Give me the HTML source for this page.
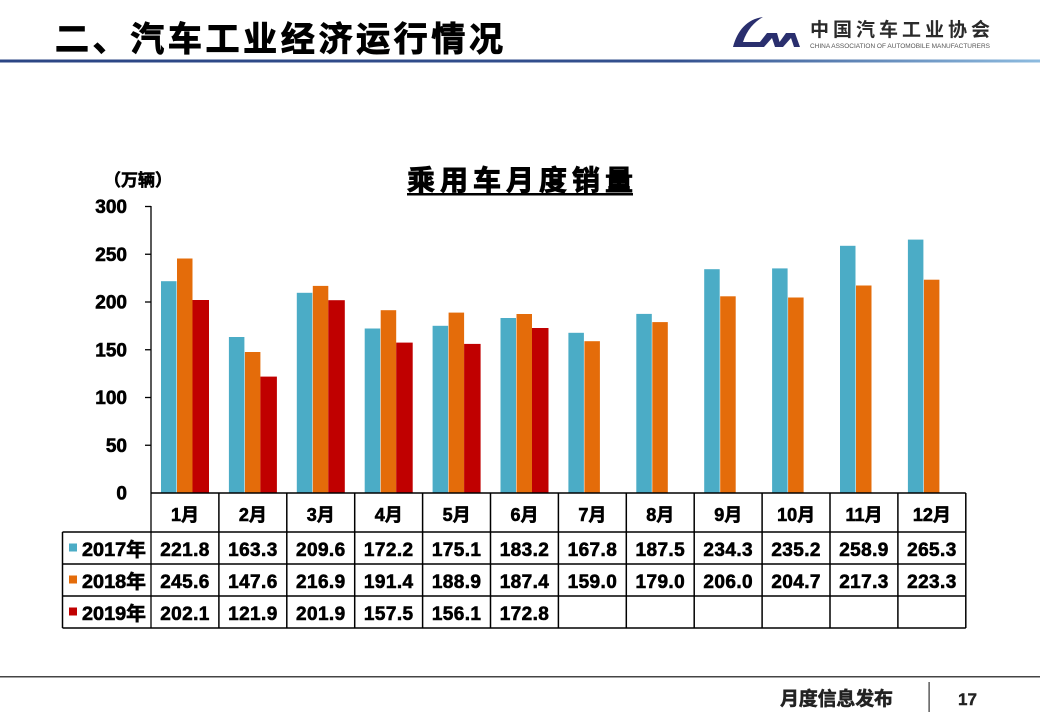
<!DOCTYPE html>
<html><head><meta charset="utf-8">
<style>
html,body{margin:0;padding:0;background:#fff;}
svg{display:block;}
text{font-family:"Liberation Sans","Noto Sans CJK SC",sans-serif;font-weight:bold;fill:#000;}
.hv{stroke:#000;stroke-width:0.6;}
.hv2{stroke:#000;stroke-width:0.9;}
</style></head>
<body>
<svg width="1040" height="720" viewBox="0 0 1040 720" xmlns="http://www.w3.org/2000/svg">
<defs>
<linearGradient id="hg" x1="0" x2="1" y1="0" y2="0">
<stop offset="0" stop-color="#2B4584"/>
<stop offset="0.65" stop-color="#34518f"/>
<stop offset="1" stop-color="#8DBBDF"/>
</linearGradient>
</defs>
<rect x="0" y="0" width="1040" height="720" fill="#fff"/>
<!-- header -->
<text class="hv2" x="55" y="51" font-size="34" textLength="448" lengthAdjust="spacing">二、汽车工业经济运行情况</text>
<rect x="0" y="59.5" width="1040" height="3" fill="url(#hg)"/>
<!-- logo -->
<path d="M763 17 C747 19 737 31 733 47 L758 47 L761 42 L743 42 C747 30 754 22 763 17 Z" fill="#2A2F6E"/>
<path d="M756 47 L767 33 L777 33 L781 47 L775 47 L772 38 L764 47 Z" fill="#2A2F6E"/>
<path d="M776 47 L786 33 L795 33 L800 47 L794 47 L791 38 L783 47 Z" fill="#2A2F6E"/>
<text x="810" y="36" font-size="19" textLength="180" lengthAdjust="spacing" style="fill:#2a2a2a">中国汽车工业协会</text>
<text x="810" y="48" font-size="6" textLength="180" lengthAdjust="spacingAndGlyphs" style="fill:#555;font-weight:normal">CHINA ASSOCIATION OF AUTOMOBILE MANUFACTURERS</text>

<!-- chart title -->
<text class="hv2" x="407" y="190" font-size="28" textLength="226" lengthAdjust="spacing">乘用车月度销量</text>
<rect x="407" y="193" width="226" height="2.5" fill="#000"/>
<text class="hv" x="104" y="186" font-size="17">（万辆）</text>

<!-- y axis -->
<g stroke="#000" stroke-width="1.3">
<line x1="151" y1="206" x2="151" y2="628"/>
<line x1="145" y1="206.5" x2="151" y2="206.5"/>
<line x1="145" y1="254.25" x2="151" y2="254.25"/>
<line x1="145" y1="302" x2="151" y2="302"/>
<line x1="145" y1="349.75" x2="151" y2="349.75"/>
<line x1="145" y1="397.5" x2="151" y2="397.5"/>
<line x1="145" y1="445.25" x2="151" y2="445.25"/>
</g>
<g font-size="19" text-anchor="end" class="hv">
<text x="127" y="213">300</text>
<text x="127" y="261">250</text>
<text x="127" y="308.5">200</text>
<text x="127" y="356.5">150</text>
<text x="127" y="404">100</text>
<text x="127" y="452">50</text>
<text x="127" y="499.5">0</text>
</g>

<!-- bars 2017 -->
<g fill="#4BACC6">
<rect x="161" y="281.2" width="15.5" height="211.8"/>
<rect x="228.9" y="337.0" width="15.5" height="156.0"/>
<rect x="296.8" y="292.8" width="15.5" height="200.2"/>
<rect x="364.7" y="328.5" width="15.5" height="164.5"/>
<rect x="432.6" y="325.8" width="15.5" height="167.2"/>
<rect x="500.5" y="318.0" width="15.5" height="175.0"/>
<rect x="568.4" y="332.8" width="15.5" height="160.2"/>
<rect x="636.3" y="313.9" width="15.5" height="179.1"/>
<rect x="704.2" y="269.2" width="15.5" height="223.8"/>
<rect x="772.1" y="268.4" width="15.5" height="224.6"/>
<rect x="840" y="245.8" width="15.5" height="247.2"/>
<rect x="907.9" y="239.6" width="15.5" height="253.4"/>
</g>
<!-- bars 2018 -->
<g fill="#E46C0A">
<rect x="177" y="258.5" width="15.5" height="234.5"/>
<rect x="244.9" y="352.0" width="15.5" height="141.0"/>
<rect x="312.8" y="285.9" width="15.5" height="207.1"/>
<rect x="380.7" y="310.2" width="15.5" height="182.8"/>
<rect x="448.6" y="312.6" width="15.5" height="180.4"/>
<rect x="516.5" y="314.0" width="15.5" height="179.0"/>
<rect x="584.4" y="341.2" width="15.5" height="151.8"/>
<rect x="652.3" y="322.1" width="15.5" height="170.9"/>
<rect x="720.2" y="296.3" width="15.5" height="196.7"/>
<rect x="788.1" y="297.5" width="15.5" height="195.5"/>
<rect x="856" y="285.5" width="15.5" height="207.5"/>
<rect x="923.9" y="279.7" width="15.5" height="213.3"/>
</g>
<!-- bars 2019 -->
<g fill="#C00000">
<rect x="192.5" y="300.0" width="16.5" height="193.0"/>
<rect x="260.4" y="376.6" width="16.5" height="116.4"/>
<rect x="328.3" y="300.2" width="16.5" height="192.8"/>
<rect x="396.2" y="342.6" width="16.5" height="150.4"/>
<rect x="464.1" y="343.9" width="16.5" height="149.1"/>
<rect x="532" y="328.0" width="16.5" height="165.0"/>
</g>

<!-- table grid -->
<g stroke="#000" stroke-width="1.5">
<line x1="151" y1="493" x2="965.8" y2="493"/>
<line x1="62.5" y1="532" x2="965.8" y2="532"/>
<line x1="62.5" y1="564" x2="965.8" y2="564"/>
<line x1="62.5" y1="596" x2="965.8" y2="596"/>
<line x1="62.5" y1="628" x2="965.8" y2="628"/>
<line x1="62.5" y1="532" x2="62.5" y2="628"/>
<line x1="218.9" y1="493" x2="218.9" y2="628"/>
<line x1="286.8" y1="493" x2="286.8" y2="628"/>
<line x1="354.7" y1="493" x2="354.7" y2="628"/>
<line x1="422.6" y1="493" x2="422.6" y2="628"/>
<line x1="490.5" y1="493" x2="490.5" y2="628"/>
<line x1="558.4" y1="493" x2="558.4" y2="628"/>
<line x1="626.3" y1="493" x2="626.3" y2="628"/>
<line x1="694.2" y1="493" x2="694.2" y2="628"/>
<line x1="762.1" y1="493" x2="762.1" y2="628"/>
<line x1="830" y1="493" x2="830" y2="628"/>
<line x1="897.9" y1="493" x2="897.9" y2="628"/>
<line x1="965.8" y1="493" x2="965.8" y2="628"/>
</g>

<!-- month labels -->
<g font-size="18" text-anchor="middle" class="hv">
<text x="185" y="521">1月</text>
<text x="252.9" y="521">2月</text>
<text x="320.8" y="521">3月</text>
<text x="388.7" y="521">4月</text>
<text x="456.6" y="521">5月</text>
<text x="524.5" y="521">6月</text>
<text x="592.4" y="521">7月</text>
<text x="660.3" y="521">8月</text>
<text x="728.2" y="521">9月</text>
<text x="796.1" y="521">10月</text>
<text x="864" y="521">11月</text>
<text x="931.9" y="521">12月</text>
</g>

<!-- legend labels -->
<rect x="69" y="543.5" width="8" height="8" fill="#4BACC6"/>
<rect x="69" y="575.5" width="8" height="8" fill="#E46C0A"/>
<rect x="69" y="607.5" width="8" height="8" fill="#C00000"/>
<g font-size="19" class="hv">
<text x="82" y="556" textLength="64" lengthAdjust="spacingAndGlyphs">2017年</text>
<text x="82" y="588" textLength="64" lengthAdjust="spacingAndGlyphs">2018年</text>
<text x="82" y="620" textLength="64" lengthAdjust="spacingAndGlyphs">2019年</text>
</g>

<!-- values -->
<g font-size="19" text-anchor="middle" letter-spacing="0.4" class="hv">
<text x="185" y="556">221.8</text>
<text x="252.9" y="556">163.3</text>
<text x="320.8" y="556">209.6</text>
<text x="388.7" y="556">172.2</text>
<text x="456.6" y="556">175.1</text>
<text x="524.5" y="556">183.2</text>
<text x="592.4" y="556">167.8</text>
<text x="660.3" y="556">187.5</text>
<text x="728.2" y="556">234.3</text>
<text x="796.1" y="556">235.2</text>
<text x="864" y="556">258.9</text>
<text x="931.9" y="556">265.3</text>

<text x="185" y="588">245.6</text>
<text x="252.9" y="588">147.6</text>
<text x="320.8" y="588">216.9</text>
<text x="388.7" y="588">191.4</text>
<text x="456.6" y="588">188.9</text>
<text x="524.5" y="588">187.4</text>
<text x="592.4" y="588">159.0</text>
<text x="660.3" y="588">179.0</text>
<text x="728.2" y="588">206.0</text>
<text x="796.1" y="588">204.7</text>
<text x="864" y="588">217.3</text>
<text x="931.9" y="588">223.3</text>

<text x="185" y="620">202.1</text>
<text x="252.9" y="620">121.9</text>
<text x="320.8" y="620">201.9</text>
<text x="388.7" y="620">157.5</text>
<text x="456.6" y="620">156.1</text>
<text x="524.5" y="620">172.8</text>
</g>

<!-- footer -->
<rect x="0" y="676" width="1040" height="1.5" fill="#444"/>
<text x="780" y="705" font-size="19" textLength="113" lengthAdjust="spacing" style="fill:#222;stroke:#222;stroke-width:0.5">月度信息发布</text>
<rect x="928.5" y="682" width="1.2" height="30" fill="#333"/>
<text x="958" y="705" font-size="17" style="fill:#222;stroke:#222;stroke-width:0.4">17</text>
</svg>
</body></html>
